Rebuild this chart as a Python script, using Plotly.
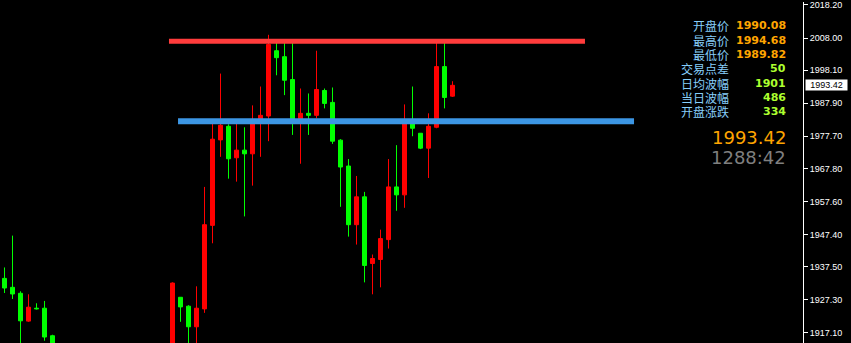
import plotly.graph_objects as go

# ---- data ----
bar_index = [0, 1, 2, 3, 4, 5, 6,
             21, 22, 23, 24, 25, 26, 27, 28, 29, 30, 31, 32, 33, 34, 35, 36, 37, 38,
             39, 40, 41, 42, 43, 44, 45, 46, 47, 48, 49, 50, 51, 52, 53, 54, 55, 56]
opens = [1933.87, 1931.11, 1929.27, 1920.69, 1924.67, 1924.67, 1916.18,
         1908.00, 1928.04, 1925.29, 1918.94, 1924.46, 1950.22, 1976.59, 1980.79, 1971.07, 1973.43,
         1972.29, 1982.32, 1983.95, 2004.09, 2002.25, 1995.20, 1982.32, 1984.78,
         1984.16, 1991.83, 1988.15, 1976.50, 1968.52, 1950.43, 1959.02, 1938.47, 1939.70, 1945.83,
         1962.08, 1959.63, 1982.32, 1978.64, 1974.04, 1980.48, 1999.19, 1990.08]
highs = [1937.24, 1947.06, 1929.88, 1928.96, 1926.20, 1926.91, 1916.49,
         1932.64, 1928.10, 1925.59, 1931.42, 1962.08, 1982.32, 1997.04, 1981.40, 1982.32, 1980.48,
         1987.23, 1993.05, 2009.00, 2006.85, 2006.85, 2006.85, 1992.44, 1990.91,
         2004.09, 1992.44, 1992.75, 1976.80, 1970.67, 1965.46, 1960.55, 1941.23, 1948.90, 1970.67,
         1974.96, 1987.53, 1993.05, 1978.70, 1984.78, 2006.85, 2006.85, 1994.68]
lows = [1929.36, 1927.52, 1911.79, 1920.47, 1924.27, 1914.64, 1908.00,
        1906.00, 1920.47, 1913.30, 1913.30, 1923.23, 1944.70, 1971.37, 1964.63, 1963.71, 1952.98,
        1962.48, 1971.37, 1976.19, 1996.52, 1990.39, 1978.12, 1969.23, 1978.12,
        1983.24, 1986.31, 1975.36, 1955.95, 1946.75, 1944.30, 1932.64, 1928.96, 1931.11, 1943.07,
        1954.72, 1955.64, 1977.72, 1973.74, 1964.84, 1980.18, 1986.31, 1989.82]
closes = [1930.90, 1929.06, 1920.78, 1924.98, 1924.50, 1915.78, 1910.50,
          1932.43, 1925.07, 1918.94, 1924.67, 1950.43, 1976.80, 1981.10, 1970.76, 1973.43, 1972.29,
          1982.32, 1984.16, 2006.03, 2001.95, 1994.99, 1982.32, 1984.78, 1984.16,
          1992.13, 1987.84, 1976.19, 1968.22, 1950.43, 1959.02, 1937.86, 1940.00, 1946.14, 1962.08,
          1959.63, 1982.32, 1980.18, 1974.04, 1980.79, 1999.19, 1989.68, 1993.42]

tick_values = [2018.20, 2008.00, 1998.10, 1987.90, 1977.70, 1967.80,
               1957.60, 1947.40, 1937.50, 1927.30, 1917.10]

# horizontal level lines: price, first bar, last bar
level_prices = [2007.00, 1982.37]
level_start = [20.56, 21.69]
level_end = [72.56, 78.69]

current_price = 1993.42

panel_labels = ["开盘价", "最高价", "最低价", "交易点差", "日均波幅", "当日波幅", "开盘涨跌"]
panel_values = ["1990.08", "1994.68", "1989.82", "50", "1901", "486", "334"]
big_price = "1993.42"
big_time = "1288:42"

# ---- figure ----
W, H = 851, 343
R = 48
PW = W - R

fig = go.Figure()
fig.add_trace(go.Candlestick(
    x=bar_index, open=opens, high=highs, low=lows, close=closes,
    increasing=dict(line=dict(color="#FF0000", width=1), fillcolor="#FF0000"),
    decreasing=dict(line=dict(color="#00FF00", width=1), fillcolor="#00FF00"),
    whiskerwidth=0, hoverinfo="skip", showlegend=False,
))

level_colors = ["#FF3C3C", "#3C96E4"]
level_widths = [5, 6]
for p, s, e, c, w in zip(level_prices, level_start, level_end, level_colors, level_widths):
    fig.add_shape(type="line", xref="x", yref="y", x0=s, x1=e, y0=p, y1=p,
                  line=dict(color=c, width=w), layer="above")

annotations = []
row_y = [24, 38.4, 52.8, 67.2, 81.6, 96.0, 110.4]
val_colors = ["#FFA500"] * 3 + ["#ADFF2F"] * 4
for lab, val, yy, vc in zip(panel_labels, panel_values, row_y, val_colors):
    annotations.append(dict(xref="paper", yref="paper", x=730 / PW, y=1 - yy / H,
                            xanchor="right", yanchor="middle", showarrow=False, text=lab,
                            font=dict(family="Noto Sans CJK SC", size=12, color="#87CEFA"),
                            borderpad=0, height=13))
    annotations.append(dict(xref="paper", yref="paper", x=787 / PW, y=1 - yy / H,
                            xanchor="right", yanchor="middle", showarrow=False, text="<b>" + val + "</b>",
                            font=dict(family="DejaVu Sans", size=11, color=vc),
                            borderpad=0, height=13))
annotations.append(dict(xref="paper", yref="paper", x=787 / PW, y=1 - 136.5 / H,
                        xanchor="right", yanchor="middle", showarrow=False, text=big_price,
                        font=dict(family="DejaVu Sans", size=18, color="#FFA500"), borderpad=0))
annotations.append(dict(xref="paper", yref="paper", x=787 / PW, y=1 - 156.5 / H,
                        xanchor="right", yanchor="middle", showarrow=False, text=big_time,
                        font=dict(family="DejaVu Sans", size=18, color="#7F7F7F"), borderpad=0))
# current price tag on the axis
annotations.append(dict(xref="paper", yref="y", x=1, y=current_price, xanchor="left",
                        yanchor="middle", xshift=2, showarrow=False, text=f"{current_price:.2f}",
                        bgcolor="#FFFFFF", width=41, height=10, borderpad=0,
                        font=dict(family="Liberation Sans", size=9, color="#000000")))

fig.update_layout(
    width=W, height=H,
    margin=dict(l=0, r=R, t=0, b=0, pad=0),
    paper_bgcolor="#000000", plot_bgcolor="#000000",
    boxgap=0.5, boxgroupgap=0,
    xaxis=dict(range=[-4.5 / 8, (PW - 4.5) / 8], visible=False, rangeslider=dict(visible=False),
               showgrid=False, zeroline=False, fixedrange=True),
    yaxis=dict(range=[2018.2 - (343 - 3) / 3.261, 2018.2 + 3 / 3.261], side="right",
               showgrid=False, zeroline=False, showline=True, linecolor="#FFFFFF", linewidth=1,
               ticks="outside", ticklen=4, tickcolor="#FFFFFF", tickwidth=1,
               tickvals=tick_values, ticktext=[f"{v:.2f}" for v in tick_values],
               tickfont=dict(family="Liberation Sans", size=9, color="#FFFFFF"),
               ticklabeloverflow="allow", fixedrange=True),
    annotations=annotations,
    showlegend=False,
)

fig.write_html("out.html", config={"displayModeBar": False})
